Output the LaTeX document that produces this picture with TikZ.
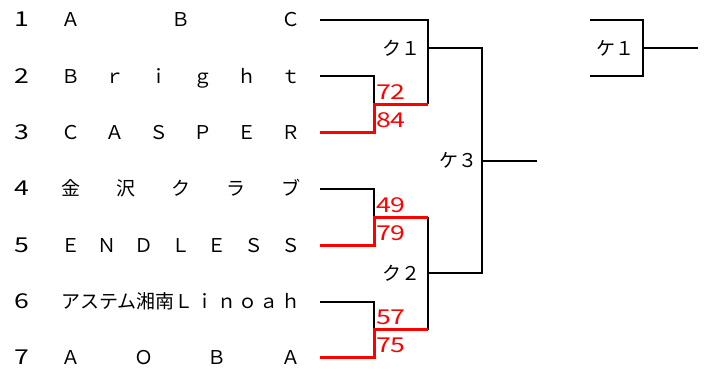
\documentclass[tikz,border=0pt]{standalone}
\usepackage{fontspec}
\setmainfont{Noto Sans CJK JP}
\newfontfamily\widefont[FakeStretch=1.3]{Noto Sans CJK JP}
\usetikzlibrary{positioning}
\definecolor{ink}{RGB}{0,0,0}
\definecolor{win}{RGB}{255,0,0}
\tikzset{
  lbl/.style={inner sep=0pt,text height=14pt,text depth=0pt,font=\fontsize{19}{22}\selectfont},
  seed/.style={lbl,font=\widefont\fontsize{20.5}{22}\selectfont},
  team/.style={lbl,anchor=west},
  score/.style={seed,anchor=west,text=win},
  rnd/.style={lbl,anchor=east},
  line/.style={draw=ink,line width=2pt},
  winline/.style={draw=win,line width=3pt},
}

\begin{document}
\begin{tikzpicture}[x=1pt,y=-1pt]
    \useasboundingbox (0,0) rectangle (710,369);
    % entries
    \foreach \nm [count=\i] in {{Ａ\hfill Ｂ\hfill Ｃ},{Ｂ\hfill ｒ\hfill ｉ\hfill ｇ\hfill ｈ\hfill ｔ},{Ｃ\hfill Ａ\hfill Ｓ\hfill Ｐ\hfill Ｅ\hfill Ｒ},{金\hfill 沢\hfill ク\hfill ラ\hfill ブ},{Ｅ\hfill Ｎ\hfill Ｄ\hfill Ｌ\hfill Ｅ\hfill Ｓ\hfill Ｓ},{アステム湘南Ｌ\hfill ｉ\hfill ｎ\hfill ｏ\hfill ａ\hfill ｈ},{Ａ\hfill Ｏ\hfill Ｂ\hfill Ａ}}{
      \pgfmathsetmacro{\y}{20+(\i-1)*56.3}
      \node[seed] (n\i) at (22,\y) {\i};
      \node[team] (t\i) at (61,\y) {\makebox[239pt]{\nm}};
      \coordinate (a\i) at (320,\y);
    }
    % junctions
    \coordinate (j1) at (374,104.5); \coordinate (k1) at (428,104.5);
    \coordinate (j2) at (374,217);   \coordinate (k2) at (428,217);
    \coordinate (j3) at (374,329.6); \coordinate (k3) at (428,329.6);
    \coordinate (m1) at (428,48.2);  \coordinate (m2) at (428,273.4);
    \coordinate (c3) at (482,160.8); \coordinate (o3) at (537,160.8);
    \coordinate (b1) at (590,20);    \coordinate (b2) at (643,76.3);
    \coordinate (b3) at (590,76.3);  \coordinate (b4) at (643,48.2);
    \coordinate (b5) at (698,48.2);

    \draw[line] (a1) -| (k1);
    \draw[line] (a2) -| (j1);
    \draw[line] (a4) -| (j2);
    \draw[line] (a6) -| (j3);
    \draw[line] (k2) -- (k3);
    \draw[line] (m1) -| (c3) |- (m2);
    \draw[line] (c3) -- (o3);
    \draw[line] (b1) -| (b2) -- (b3);
    \draw[line] (b4) -- (b5);

    \draw[winline] (a3) -| (j1) -- (k1);
    \draw[winline] (a5) -| (j2) -- (k2);
    \draw[winline] (a7) -| (j3) -- (k3);

    % scores
    \node[score] (s2) at ([xshift=2pt,yshift=12pt]j1) {72};
    \node[score] (s3) at ([xshift=2pt,yshift=-16pt]j1) {84};
    \node[score] (s4) at ([xshift=2pt,yshift=12pt]j2) {49};
    \node[score] (s5) at ([xshift=2pt,yshift=-16pt]j2) {79};
    \node[score] (s6) at ([xshift=2pt,yshift=12pt]j3) {57};
    \node[score] (s7) at ([xshift=2pt,yshift=-16pt]j3) {75};

    % rounds
    \node[rnd] (r1) at ([xshift=-7pt]m1) {ク１};
    \node[rnd] (r2) at ([xshift=-7pt]m2) {ク２};
    \node[rnd] (r3) at ([xshift=-4pt]c3) {ケ３};
    \node[lbl] (r4) at (615,48.2) {ケ１};
\end{tikzpicture}
\end{document}
